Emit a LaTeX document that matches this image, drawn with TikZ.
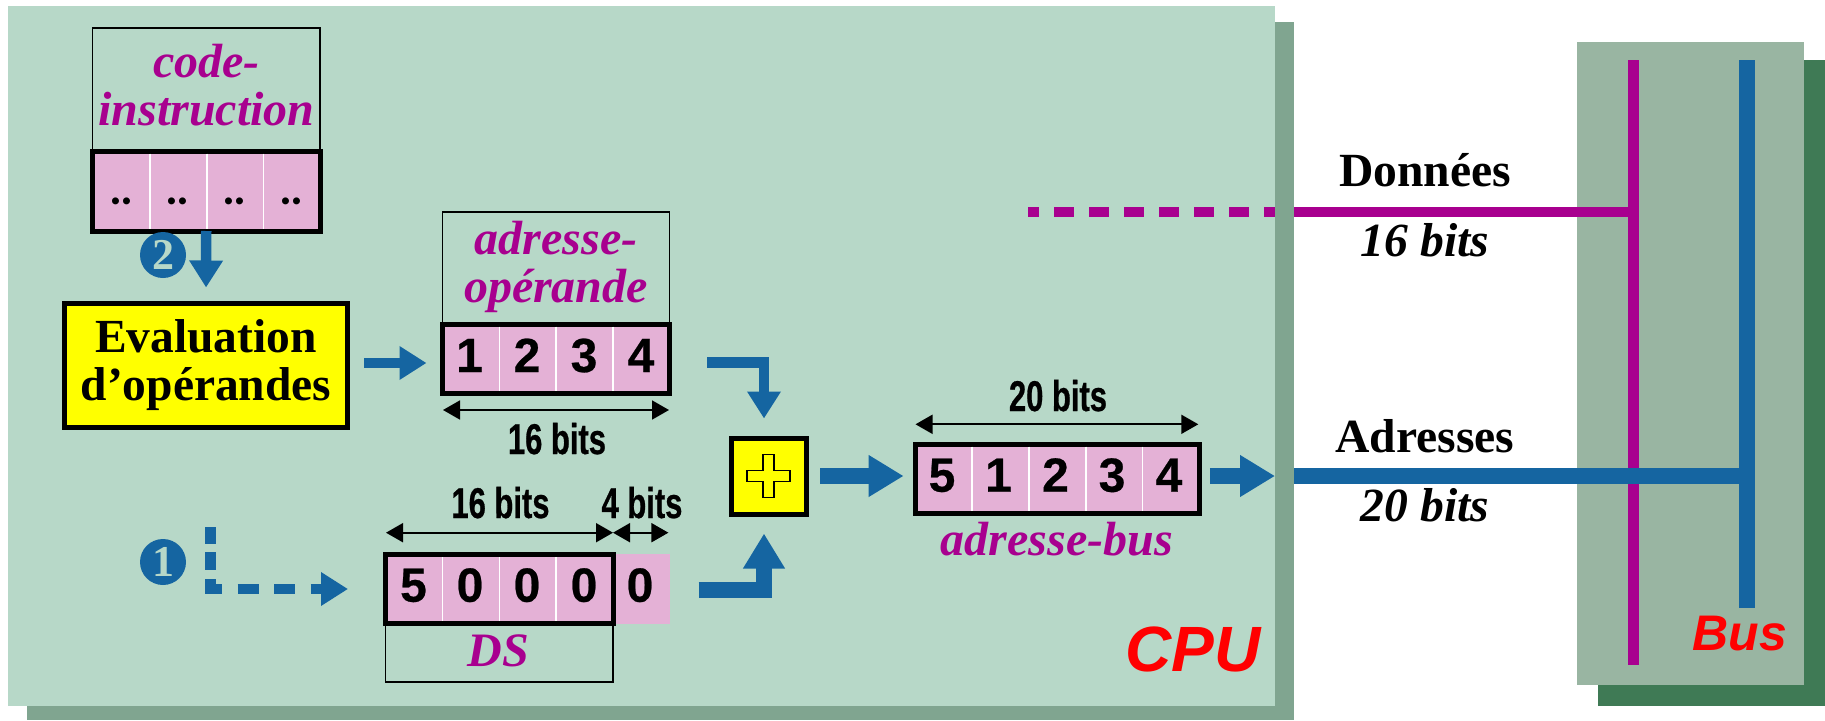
\documentclass[tikz,border=0pt]{standalone}
\usepackage{fontspec}
\setmainfont{Liberation Serif}
\setsansfont{Liberation Sans}
\newfontfamily\narrowsans[FakeStretch=0.72,BoldFeatures={FakeBold=0.6}]{Liberation Sans}
\newfontfamily\regsans[BoldFeatures={FakeBold=0.5}]{Liberation Sans}
\newfontfamily\dotsfont{Lato}
\usetikzlibrary{arrows.meta}
\definecolor{cpubg}{HTML}{B7D8C8}
\definecolor{cpushadow}{HTML}{80A590}
\definecolor{busbg}{HTML}{99B5A2}
\definecolor{busshadow}{HTML}{3F7A55}
\definecolor{regpink}{HTML}{E4B1D6}
\definecolor{boxyellow}{HTML}{FFFF00}
\definecolor{linkblue}{HTML}{1565A1}
\definecolor{linkmagenta}{HTML}{A8008F}
\tikzset{
  regbox/.style={draw=black, line width=5pt, fill=regpink, inner sep=0pt, outer sep=0pt},
  yellowbox/.style={regbox, fill=boxyellow},
  labelbox/.style={draw=black, line width=1.5pt, inner sep=0pt, outer sep=0pt},
  cellsep/.style={draw=white, line width=1.8pt},
  regdigit/.style={anchor=base, inner sep=0pt, font=\fontsize{48}{48}\selectfont\regsans\bfseries},
  regdots/.style={anchor=base, inner sep=0pt, font=\fontsize{46}{46}\selectfont\dotsfont\bfseries},
  fieldname/.style={align=center, inner sep=0pt, text=linkmagenta, font=\fontsize{48}{48}\selectfont\bfseries\itshape},
  linkname/.style={anchor=base, inner sep=0pt, font=\fontsize{47.6}{47.6}\selectfont\bfseries},
  linkwidth/.style={anchor=base, inner sep=0pt, font=\fontsize{47.6}{47.6}\selectfont\bfseries\itshape},
  dimname/.style={anchor=base, inner sep=0pt, font=\fontsize{43}{43}\selectfont\narrowsans\bfseries},
  unitname/.style={anchor=base, inner sep=0pt, text=red, font=\sffamily\bfseries\itshape},
  stepdisc/.style={circle, fill=linkblue, text=cpubg, inner sep=0pt, minimum size=46pt, font=\fontsize{44}{44}\selectfont\bfseries},
  dimarrow/.style={line width=1.8pt, {Triangle[length=17pt,width=19pt]}-{Triangle[length=17pt,width=19pt]}},
  thinarrow/.style={draw=linkblue, line width=10.5pt, -{Triangle[length=27pt,width=32pt]}},
  fatarrow/.style={draw=linkblue, line width=16pt, -{Triangle[length=35pt,width=39.5pt]}}
}
\begin{document}
\begin{tikzpicture}[x=1pt,y=-1pt]
  \useasboundingbox (0,0) rectangle (1825,720);
  \fill[cpushadow] (27,22) rectangle (1294,720);
  \fill[cpubg] (8,6) rectangle (1275,706);
  \fill[busshadow] (1598,60) rectangle (1825,706);
  \fill[busbg] (1577,42) rectangle (1804,685);

  \node[regbox, minimum width=227.5pt, minimum height=80pt] (code) at (206.25,191) {};
  \node[labelbox, minimum width=227.5pt, minimum height=123pt, anchor=south] (codelabel) at (code.north) {};
  \node[fieldname] (codetext) at (206.5,85) {code-\\instruction};
  \foreach \x in {150,206.6,263.5} \draw[cellsep] (\x,153.5) -- (\x,228.5);
  \foreach \x [count=\i] in {121.2,177.7,234.6,291} \node[regdots] (codedots\i) at (\x,204) {..};

  \node[yellowbox, minimum width=283pt, minimum height=124pt, align=center, font=\fontsize{47.5}{48}\selectfont\bfseries] (eval) at (206,365.5) {Evaluation\\d’opérandes};

  \node[regbox, minimum width=227pt, minimum height=69.5pt] (addr) at (556,358.75) {};
  \node[labelbox, minimum width=227pt, minimum height=112pt, anchor=south] (addrlabel) at (addr.north) {};
  \node[fieldname] (addrtext) at (556,267) {adresse-\\opérande};
  \foreach \x in {499.5,556,613} \draw[cellsep] (\x,326.5) -- (\x,391);
  \foreach \x/\d in {469.5/1,527/2,584/3,641/4} \node[regdigit] (addr\d) at (\x,372) {\d};
  \coordinate (addrdimA) at (443,410);
  \coordinate (addrdimB) at (669,410);
  \draw[dimarrow] (addrdimA) -- (addrdimB);
  \node[dimname] (addrdim) at (557,454) {16 bits};

  \fill[regpink] (615,554) rectangle (670,624);
  \node[regbox, minimum width=227.5pt, minimum height=69pt] (ds) at (499.25,589) {};
  \node[labelbox, minimum width=227.5pt, minimum height=58.5pt, anchor=north] (dslabel) at (ds.south) {};
  \node[fieldname, anchor=base] (dstext) at (498.5,666) {DS};
  \foreach \x in {442.5,499.5,556} \draw[cellsep] (\x,557) -- (\x,621);
  \foreach \x/\d [count=\i] in {413.5/5,470/0,527/0,584/0,640/0} \node[regdigit] (ds\i) at (\x,601.7) {\d};
  \coordinate (dsdimA) at (386,532.7);
  \coordinate (dsdimB) at (613,532.7);
  \coordinate (dsdimC) at (668.4,532.7);
  \draw[dimarrow] (dsdimA) -- (dsdimB);
  \draw[dimarrow] (dsdimB) -- (dsdimC);
  \node[dimname] (dsdim) at (500.5,518) {16 bits};
  \node[dimname] (lowdim) at (642,518) {4 bits};

  \node[yellowbox, minimum width=75pt, minimum height=76pt] (plus) at (769,476.5) {};
  \draw[line width=1.8pt, fill=boxyellow] (763,454.5) -- (774,454.5) -- (774,470.5) -- (790,470.5) -- (790,481.5) -- (774,481.5) -- (774,497.5) -- (763,497.5) -- (763,481.5) -- (747,481.5) -- (747,470.5) -- (763,470.5) -- cycle;

  \node[regbox, minimum width=284pt, minimum height=69pt] (busaddr) at (1057,478.5) {};
  \foreach \x in {971.7,1029,1085.8,1142.4} \draw[cellsep] (\x,446.5) -- (\x,510.5);
  \foreach \x/\d in {942/5,998.5/1,1055.5/2,1112/3,1169/4} \node[regdigit] (busaddr\d) at (\x,491.7) {\d};
  \coordinate (busdimA) at (915.5,424.3);
  \coordinate (busdimB) at (1198.3,424.3);
  \draw[dimarrow] (busdimA) -- (busdimB);
  \node[dimname] (busdim) at (1058,411) {20 bits};
  \node[fieldname, anchor=base] (busaddrtext) at (1056.7,555.7) {adresse-bus};

  \node[stepdisc] (stepB) at (163,255) {2};
  \node[stepdisc] (stepA) at (163,562) {1};
  \draw[thinarrow, shorten >=16pt] (code.south) -- (eval.north);
  \draw[thinarrow, shorten <=16.5pt, shorten >=16pt] (eval.east |- 0,363) -- (addr.west |- 0,363);
  \coordinate (addrout) at (707,362.5);
  \draw[thinarrow, shorten >=20pt] (addrout) -| ([xshift=-5pt]plus.north);
  \coordinate (dsout) at (698.7,589.5);
  \draw[fatarrow, shorten >=19pt] (dsout) -| ([xshift=-5pt]plus.south);
  \coordinate (fetchstart) at (210.6,527);
  \draw[thinarrow, dash pattern=on 17pt off 8pt on 18pt off 9pt on 21pt off 16pt on 21pt off 15.5pt on 20.5pt off 16pt on 60pt off 0pt, shorten >=37.5pt] (fetchstart) |- (ds.west);
  \coordinate (cpuport) at (1275,476);
  \draw[fatarrow, shorten <=13.5pt, shorten >=11.4pt] (plus.east |- cpuport) -- (busaddr.west |- cpuport);
  \draw[fatarrow, shorten <=10.8pt] (busaddr.east |- cpuport) -- (cpuport);

  \coordinate (datatop) at (1633.5,60);
  \coordinate (databottom) at (1633.5,665);
  \coordinate (addrtop) at (1747,60);
  \coordinate (addrbottom) at (1747,608);
  \coordinate (datastart) at (1028,212);
  \coordinate (datacpu) at (1275,212);
  \coordinate (dataport) at (1294,212);
  \coordinate (busport) at (1294,476);
  \draw[linkmagenta, line width=10.5pt] (datatop) -- (databottom);
  \draw[linkblue, line width=15.5pt] (addrtop) -- (addrbottom);
  \draw[linkmagenta, line width=10pt, dash pattern=on 20pt off 15pt, dash phase=9pt] (datastart) -- (datacpu);
  \draw[linkmagenta, line width=10pt] (dataport) -- (datatop |- dataport);
  \draw[linkblue, line width=16pt] (busport) -- (addrtop |- busport);

  \node[linkname] (datalabel) at (1425,186) {Données};
  \node[linkwidth] (datawidth) at (1425,256) {16 bits};
  \node[linkname] (addrname) at (1425,452) {Adresses};
  \node[linkwidth] (addrwidth) at (1425,521) {20 bits};
  \node[unitname, font=\fontsize{64}{64}\selectfont\sffamily\bfseries\itshape] (cpuname) at (1193,671) {CPU};
  \node[unitname, font=\fontsize{50}{50}\selectfont\sffamily\bfseries\itshape] (busname) at (1740,650) {Bus};
\end{tikzpicture}
\end{document}
